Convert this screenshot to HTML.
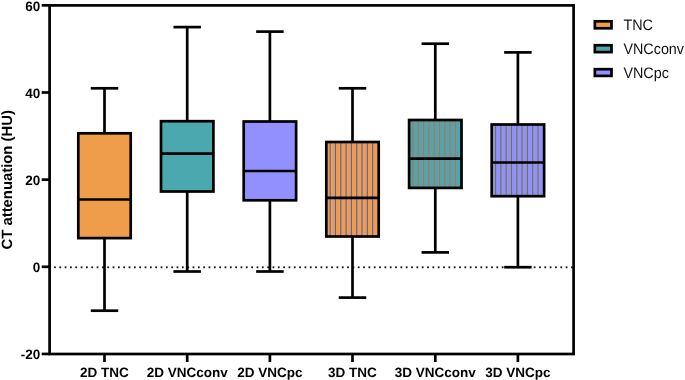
<!DOCTYPE html><html><head><meta charset="utf-8"><style>html,body{margin:0;padding:0;background:#fff;}svg{display:block;}text{font-family:"Liberation Sans",sans-serif;}.t{filter:grayscale(1);text-rendering:geometricPrecision;}</style></head><body>
<svg width="685" height="380" viewBox="0 0 685 380">
<rect x="0" y="0" width="685" height="380" fill="#fff"/>
<g fill="#1a1a1a">
<rect x="54.00" y="266.40" width="1.8" height="1.8"/>
<rect x="59.33" y="266.40" width="1.8" height="1.8"/>
<rect x="64.66" y="266.40" width="1.8" height="1.8"/>
<rect x="69.99" y="266.40" width="1.8" height="1.8"/>
<rect x="75.32" y="266.40" width="1.8" height="1.8"/>
<rect x="80.65" y="266.40" width="1.8" height="1.8"/>
<rect x="85.98" y="266.40" width="1.8" height="1.8"/>
<rect x="91.31" y="266.40" width="1.8" height="1.8"/>
<rect x="96.64" y="266.40" width="1.8" height="1.8"/>
<rect x="101.97" y="266.40" width="1.8" height="1.8"/>
<rect x="107.30" y="266.40" width="1.8" height="1.8"/>
<rect x="112.63" y="266.40" width="1.8" height="1.8"/>
<rect x="117.96" y="266.40" width="1.8" height="1.8"/>
<rect x="123.29" y="266.40" width="1.8" height="1.8"/>
<rect x="128.62" y="266.40" width="1.8" height="1.8"/>
<rect x="133.95" y="266.40" width="1.8" height="1.8"/>
<rect x="139.28" y="266.40" width="1.8" height="1.8"/>
<rect x="144.61" y="266.40" width="1.8" height="1.8"/>
<rect x="149.94" y="266.40" width="1.8" height="1.8"/>
<rect x="155.27" y="266.40" width="1.8" height="1.8"/>
<rect x="160.60" y="266.40" width="1.8" height="1.8"/>
<rect x="165.93" y="266.40" width="1.8" height="1.8"/>
<rect x="171.26" y="266.40" width="1.8" height="1.8"/>
<rect x="176.59" y="266.40" width="1.8" height="1.8"/>
<rect x="181.92" y="266.40" width="1.8" height="1.8"/>
<rect x="187.25" y="266.40" width="1.8" height="1.8"/>
<rect x="192.58" y="266.40" width="1.8" height="1.8"/>
<rect x="197.91" y="266.40" width="1.8" height="1.8"/>
<rect x="203.24" y="266.40" width="1.8" height="1.8"/>
<rect x="208.57" y="266.40" width="1.8" height="1.8"/>
<rect x="213.90" y="266.40" width="1.8" height="1.8"/>
<rect x="219.23" y="266.40" width="1.8" height="1.8"/>
<rect x="224.56" y="266.40" width="1.8" height="1.8"/>
<rect x="229.89" y="266.40" width="1.8" height="1.8"/>
<rect x="235.22" y="266.40" width="1.8" height="1.8"/>
<rect x="240.55" y="266.40" width="1.8" height="1.8"/>
<rect x="245.88" y="266.40" width="1.8" height="1.8"/>
<rect x="251.21" y="266.40" width="1.8" height="1.8"/>
<rect x="256.54" y="266.40" width="1.8" height="1.8"/>
<rect x="261.87" y="266.40" width="1.8" height="1.8"/>
<rect x="267.20" y="266.40" width="1.8" height="1.8"/>
<rect x="272.53" y="266.40" width="1.8" height="1.8"/>
<rect x="277.86" y="266.40" width="1.8" height="1.8"/>
<rect x="283.19" y="266.40" width="1.8" height="1.8"/>
<rect x="288.52" y="266.40" width="1.8" height="1.8"/>
<rect x="293.85" y="266.40" width="1.8" height="1.8"/>
<rect x="299.18" y="266.40" width="1.8" height="1.8"/>
<rect x="304.51" y="266.40" width="1.8" height="1.8"/>
<rect x="309.84" y="266.40" width="1.8" height="1.8"/>
<rect x="315.17" y="266.40" width="1.8" height="1.8"/>
<rect x="320.50" y="266.40" width="1.8" height="1.8"/>
<rect x="325.83" y="266.40" width="1.8" height="1.8"/>
<rect x="331.16" y="266.40" width="1.8" height="1.8"/>
<rect x="336.49" y="266.40" width="1.8" height="1.8"/>
<rect x="341.82" y="266.40" width="1.8" height="1.8"/>
<rect x="347.15" y="266.40" width="1.8" height="1.8"/>
<rect x="352.48" y="266.40" width="1.8" height="1.8"/>
<rect x="357.81" y="266.40" width="1.8" height="1.8"/>
<rect x="363.14" y="266.40" width="1.8" height="1.8"/>
<rect x="368.47" y="266.40" width="1.8" height="1.8"/>
<rect x="373.80" y="266.40" width="1.8" height="1.8"/>
<rect x="379.13" y="266.40" width="1.8" height="1.8"/>
<rect x="384.46" y="266.40" width="1.8" height="1.8"/>
<rect x="389.79" y="266.40" width="1.8" height="1.8"/>
<rect x="395.12" y="266.40" width="1.8" height="1.8"/>
<rect x="400.45" y="266.40" width="1.8" height="1.8"/>
<rect x="405.78" y="266.40" width="1.8" height="1.8"/>
<rect x="411.11" y="266.40" width="1.8" height="1.8"/>
<rect x="416.44" y="266.40" width="1.8" height="1.8"/>
<rect x="421.77" y="266.40" width="1.8" height="1.8"/>
<rect x="427.10" y="266.40" width="1.8" height="1.8"/>
<rect x="432.43" y="266.40" width="1.8" height="1.8"/>
<rect x="437.76" y="266.40" width="1.8" height="1.8"/>
<rect x="443.09" y="266.40" width="1.8" height="1.8"/>
<rect x="448.42" y="266.40" width="1.8" height="1.8"/>
<rect x="453.75" y="266.40" width="1.8" height="1.8"/>
<rect x="459.08" y="266.40" width="1.8" height="1.8"/>
<rect x="464.41" y="266.40" width="1.8" height="1.8"/>
<rect x="469.74" y="266.40" width="1.8" height="1.8"/>
<rect x="475.07" y="266.40" width="1.8" height="1.8"/>
<rect x="480.40" y="266.40" width="1.8" height="1.8"/>
<rect x="485.73" y="266.40" width="1.8" height="1.8"/>
<rect x="491.06" y="266.40" width="1.8" height="1.8"/>
<rect x="496.39" y="266.40" width="1.8" height="1.8"/>
<rect x="501.72" y="266.40" width="1.8" height="1.8"/>
<rect x="507.05" y="266.40" width="1.8" height="1.8"/>
<rect x="512.38" y="266.40" width="1.8" height="1.8"/>
<rect x="517.71" y="266.40" width="1.8" height="1.8"/>
<rect x="523.04" y="266.40" width="1.8" height="1.8"/>
<rect x="528.37" y="266.40" width="1.8" height="1.8"/>
<rect x="533.70" y="266.40" width="1.8" height="1.8"/>
<rect x="539.03" y="266.40" width="1.8" height="1.8"/>
<rect x="544.36" y="266.40" width="1.8" height="1.8"/>
<rect x="549.69" y="266.40" width="1.8" height="1.8"/>
<rect x="555.02" y="266.40" width="1.8" height="1.8"/>
<rect x="560.35" y="266.40" width="1.8" height="1.8"/>
<rect x="565.68" y="266.40" width="1.8" height="1.8"/>
<rect x="571.01" y="266.40" width="1.8" height="1.8"/>
</g>
<line x1="104.5" y1="88.3" x2="104.5" y2="133.3" stroke="#000" stroke-width="2.7"/>
<line x1="104.5" y1="238.1" x2="104.5" y2="310.7" stroke="#000" stroke-width="2.7"/>
<line x1="90.75" y1="88.3" x2="118.25" y2="88.3" stroke="#000" stroke-width="2.7"/>
<line x1="90.75" y1="310.7" x2="118.25" y2="310.7" stroke="#000" stroke-width="2.7"/>
<rect x="78.3" y="133.3" width="52.4" height="104.79999999999998" fill="#EF9D4A"/>
<rect x="78.3" y="133.3" width="52.4" height="104.79999999999998" fill="none" stroke="#000" stroke-width="2.7"/>
<line x1="78.3" y1="199.5" x2="130.7" y2="199.5" stroke="#000" stroke-width="2.7"/>
<line x1="187.2" y1="27.1" x2="187.2" y2="121.2" stroke="#000" stroke-width="2.7"/>
<line x1="187.2" y1="191.5" x2="187.2" y2="271.5" stroke="#000" stroke-width="2.7"/>
<line x1="173.45" y1="27.1" x2="200.95" y2="27.1" stroke="#000" stroke-width="2.7"/>
<line x1="173.45" y1="271.5" x2="200.95" y2="271.5" stroke="#000" stroke-width="2.7"/>
<rect x="161.0" y="121.2" width="52.4" height="70.3" fill="#4BA8AE"/>
<rect x="161.0" y="121.2" width="52.4" height="70.3" fill="none" stroke="#000" stroke-width="2.7"/>
<line x1="161.0" y1="153.7" x2="213.39999999999998" y2="153.7" stroke="#000" stroke-width="2.7"/>
<line x1="269.9" y1="31.6" x2="269.9" y2="121.5" stroke="#000" stroke-width="2.7"/>
<line x1="269.9" y1="200.3" x2="269.9" y2="271.5" stroke="#000" stroke-width="2.7"/>
<line x1="256.15" y1="31.6" x2="283.65" y2="31.6" stroke="#000" stroke-width="2.7"/>
<line x1="256.15" y1="271.5" x2="283.65" y2="271.5" stroke="#000" stroke-width="2.7"/>
<rect x="243.7" y="121.5" width="52.4" height="78.80000000000001" fill="#9290FE"/>
<rect x="243.7" y="121.5" width="52.4" height="78.80000000000001" fill="none" stroke="#000" stroke-width="2.7"/>
<line x1="243.7" y1="171.0" x2="296.09999999999997" y2="171.0" stroke="#000" stroke-width="2.7"/>
<line x1="352.5" y1="88.3" x2="352.5" y2="142.0" stroke="#000" stroke-width="2.7"/>
<line x1="352.5" y1="236.5" x2="352.5" y2="297.6" stroke="#000" stroke-width="2.7"/>
<line x1="338.75" y1="88.3" x2="366.25" y2="88.3" stroke="#000" stroke-width="2.7"/>
<line x1="338.75" y1="297.6" x2="366.25" y2="297.6" stroke="#000" stroke-width="2.7"/>
<rect x="326.3" y="142.0" width="52.4" height="94.5" fill="#EF9D4A"/>
<rect x="329.60" y="142.0" width="1.1" height="94.5" fill="#4B63C6"/>
<rect x="334.91" y="142.0" width="1.1" height="94.5" fill="#4B63C6"/>
<rect x="340.22" y="142.0" width="1.1" height="94.5" fill="#4B63C6"/>
<rect x="345.53" y="142.0" width="1.1" height="94.5" fill="#4B63C6"/>
<rect x="350.84" y="142.0" width="1.1" height="94.5" fill="#4B63C6"/>
<rect x="356.15" y="142.0" width="1.1" height="94.5" fill="#4B63C6"/>
<rect x="361.46" y="142.0" width="1.1" height="94.5" fill="#4B63C6"/>
<rect x="366.77" y="142.0" width="1.1" height="94.5" fill="#4B63C6"/>
<rect x="372.08" y="142.0" width="1.1" height="94.5" fill="#4B63C6"/>
<rect x="326.3" y="142.0" width="52.4" height="94.5" fill="none" stroke="#000" stroke-width="2.7"/>
<line x1="326.3" y1="197.8" x2="378.7" y2="197.8" stroke="#000" stroke-width="2.7"/>
<line x1="435.3" y1="43.7" x2="435.3" y2="120.0" stroke="#000" stroke-width="2.7"/>
<line x1="435.3" y1="187.9" x2="435.3" y2="252.4" stroke="#000" stroke-width="2.7"/>
<line x1="421.55" y1="43.7" x2="449.05" y2="43.7" stroke="#000" stroke-width="2.7"/>
<line x1="421.55" y1="252.4" x2="449.05" y2="252.4" stroke="#000" stroke-width="2.7"/>
<rect x="409.1" y="120.0" width="52.4" height="67.9" fill="#4BA8AE"/>
<rect x="412.40" y="120.0" width="1.1" height="67.9" fill="#D0644E"/>
<rect x="417.71" y="120.0" width="1.1" height="67.9" fill="#D0644E"/>
<rect x="423.02" y="120.0" width="1.1" height="67.9" fill="#D0644E"/>
<rect x="428.33" y="120.0" width="1.1" height="67.9" fill="#D0644E"/>
<rect x="433.64" y="120.0" width="1.1" height="67.9" fill="#D0644E"/>
<rect x="438.95" y="120.0" width="1.1" height="67.9" fill="#D0644E"/>
<rect x="444.26" y="120.0" width="1.1" height="67.9" fill="#D0644E"/>
<rect x="449.57" y="120.0" width="1.1" height="67.9" fill="#D0644E"/>
<rect x="454.88" y="120.0" width="1.1" height="67.9" fill="#D0644E"/>
<rect x="409.1" y="120.0" width="52.4" height="67.9" fill="none" stroke="#000" stroke-width="2.7"/>
<line x1="409.1" y1="158.6" x2="461.5" y2="158.6" stroke="#000" stroke-width="2.7"/>
<line x1="517.9" y1="52.4" x2="517.9" y2="124.5" stroke="#000" stroke-width="2.7"/>
<line x1="517.9" y1="196.2" x2="517.9" y2="267.2" stroke="#000" stroke-width="2.7"/>
<line x1="504.15" y1="52.4" x2="531.65" y2="52.4" stroke="#000" stroke-width="2.7"/>
<line x1="504.15" y1="267.2" x2="531.65" y2="267.2" stroke="#000" stroke-width="2.7"/>
<rect x="491.7" y="124.5" width="52.4" height="71.69999999999999" fill="#9290FE"/>
<rect x="495.00" y="124.5" width="1.1" height="71.69999999999999" fill="#6E7A2E"/>
<rect x="500.31" y="124.5" width="1.1" height="71.69999999999999" fill="#6E7A2E"/>
<rect x="505.62" y="124.5" width="1.1" height="71.69999999999999" fill="#6E7A2E"/>
<rect x="510.93" y="124.5" width="1.1" height="71.69999999999999" fill="#6E7A2E"/>
<rect x="516.24" y="124.5" width="1.1" height="71.69999999999999" fill="#6E7A2E"/>
<rect x="521.55" y="124.5" width="1.1" height="71.69999999999999" fill="#6E7A2E"/>
<rect x="526.86" y="124.5" width="1.1" height="71.69999999999999" fill="#6E7A2E"/>
<rect x="532.17" y="124.5" width="1.1" height="71.69999999999999" fill="#6E7A2E"/>
<rect x="537.48" y="124.5" width="1.1" height="71.69999999999999" fill="#6E7A2E"/>
<rect x="491.7" y="124.5" width="52.4" height="71.69999999999999" fill="none" stroke="#000" stroke-width="2.7"/>
<line x1="491.7" y1="162.5" x2="544.1" y2="162.5" stroke="#000" stroke-width="2.7"/>
<rect x="49.6" y="5.4" width="524.0" height="348.6" fill="none" stroke="#000" stroke-width="2.7"/>
<line x1="41.7" y1="5.35" x2="49.6" y2="5.35" stroke="#000" stroke-width="2.7"/>
<text class="t" x="40.3" y="10.95" font-size="13.5" font-weight="bold" text-anchor="end" fill="#000">60</text>
<line x1="41.7" y1="92.50" x2="49.6" y2="92.50" stroke="#000" stroke-width="2.7"/>
<text class="t" x="40.3" y="97.60" font-size="13.5" font-weight="bold" text-anchor="end" fill="#000">40</text>
<line x1="41.7" y1="179.65" x2="49.6" y2="179.65" stroke="#000" stroke-width="2.7"/>
<text class="t" x="40.3" y="184.75" font-size="13.5" font-weight="bold" text-anchor="end" fill="#000">20</text>
<line x1="41.7" y1="266.80" x2="49.6" y2="266.80" stroke="#000" stroke-width="2.7"/>
<text class="t" x="40.3" y="271.90" font-size="13.5" font-weight="bold" text-anchor="end" fill="#000">0</text>
<line x1="41.7" y1="353.95" x2="49.6" y2="353.95" stroke="#000" stroke-width="2.7"/>
<text class="t" x="40.3" y="359.05" font-size="13.5" font-weight="bold" text-anchor="end" fill="#000">-20</text>
<line x1="104.5" y1="354.0" x2="104.5" y2="362" stroke="#000" stroke-width="2.7"/>
<text class="t" x="104.5" y="376.7" font-size="13.5" font-weight="bold" text-anchor="middle" fill="#000">2D TNC</text>
<line x1="187.2" y1="354.0" x2="187.2" y2="362" stroke="#000" stroke-width="2.7"/>
<text class="t" x="187.2" y="376.7" font-size="13.5" font-weight="bold" text-anchor="middle" fill="#000">2D VNCconv</text>
<line x1="269.9" y1="354.0" x2="269.9" y2="362" stroke="#000" stroke-width="2.7"/>
<text class="t" x="269.9" y="376.7" font-size="13.5" font-weight="bold" text-anchor="middle" fill="#000">2D VNCpc</text>
<line x1="352.5" y1="354.0" x2="352.5" y2="362" stroke="#000" stroke-width="2.7"/>
<text class="t" x="352.5" y="376.7" font-size="13.5" font-weight="bold" text-anchor="middle" fill="#000">3D TNC</text>
<line x1="435.3" y1="354.0" x2="435.3" y2="362" stroke="#000" stroke-width="2.7"/>
<text class="t" x="435.3" y="376.7" font-size="13.5" font-weight="bold" text-anchor="middle" fill="#000">3D VNCconv</text>
<line x1="517.9" y1="354.0" x2="517.9" y2="362" stroke="#000" stroke-width="2.7"/>
<text class="t" x="517.9" y="376.7" font-size="13.5" font-weight="bold" text-anchor="middle" fill="#000">3D VNCpc</text>
<text class="t" transform="translate(11.6,179.8) rotate(-90)" x="0" y="0" font-size="14.85" font-weight="bold" text-anchor="middle" fill="#000">CT attenuation (HU)</text>
<rect x="594.85" y="21.30" width="16.65" height="7.00" fill="#EF9D4A" stroke="#000" stroke-width="2.7"/>
<text class="t" transform="translate(623.4,29.75) scale(0.945,1)" x="0" y="0" font-size="15.2" fill="#111">TNC</text>
<rect x="594.85" y="45.25" width="16.65" height="6.85" fill="#4BA8AE" stroke="#000" stroke-width="2.7"/>
<text class="t" transform="translate(623.4,53.70) scale(0.945,1)" x="0" y="0" font-size="15.2" fill="#111">VNCconv</text>
<rect x="594.85" y="69.20" width="16.65" height="6.70" fill="#9290FE" stroke="#000" stroke-width="2.7"/>
<text class="t" transform="translate(623.4,77.65) scale(0.945,1)" x="0" y="0" font-size="15.2" fill="#111">VNCpc</text>
</svg></body></html>
